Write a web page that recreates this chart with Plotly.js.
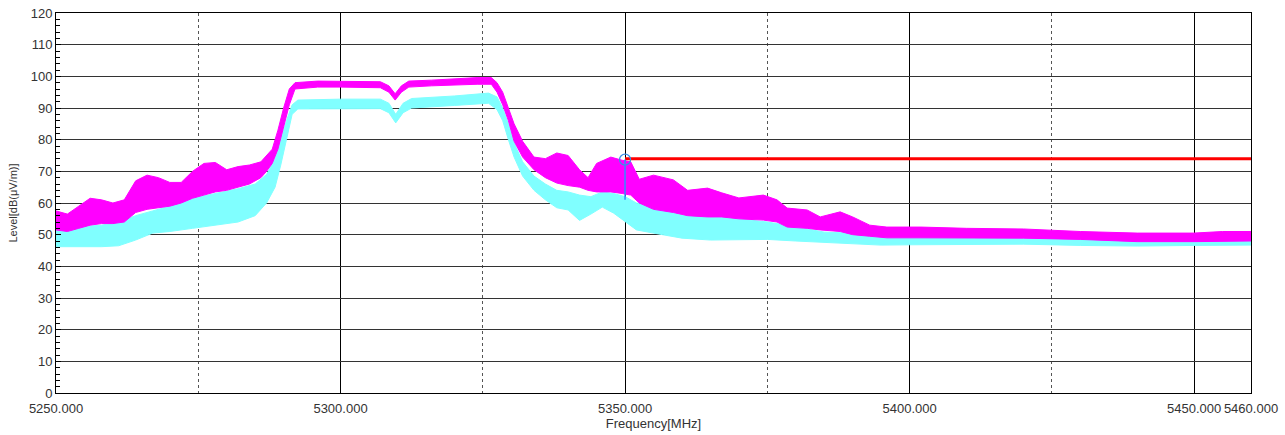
<!DOCTYPE html>
<html>
<head>
<meta charset="utf-8">
<script src="https://cdn.plot.ly/plotly-3.0.1.min.js"></script>
<style>html,body{margin:0;padding:0;background:#fff;}#chart{width:1285px;height:435px;}</style>
</head>
<body>
<div id="chart"></div>
<script>
// Magenta trace envelope (peak detector band)
const magFreq  = [5250,5252,5254,5256,5258,5260,5262,5264,5266,5268,5270,5272,5274,5276,5278,5280,5282,5284,5286,5287,5288,5289,5290,5291,5292,5296,5300,5304,5307,5308.5,5309.6,5310.7,5312,5316,5320,5324,5326.5,5327.5,5328.5,5329.5,5330.5,5332,5334,5336,5338,5340,5342,5343.5,5345,5347.5,5349.5,5351,5352.5,5355,5358.5,5361,5364.5,5367,5370,5374.3,5376.7,5378.5,5382,5384.3,5387.8,5390,5393,5396,5402,5410,5420,5430,5440,5450,5455,5460];
const magUpper = [57.5,56.5,59,61.5,61,60,61,67,68.8,68,66.5,66.5,70,72.5,72.8,70.5,71.5,72,73,75,77,83,90,96,98,98.5,98.5,98.5,98.3,97,94.5,97,98.5,98.8,99.3,99.6,99.6,98,95,90,85,79.5,74.5,74,75.8,75,70.5,68,72.5,74.5,73.5,73,67.5,68.8,67.3,64,64.7,63.2,61.6,62.5,61,58.4,57.8,55.6,57.2,55.6,53,52.4,52.4,52,51.8,51,50.5,50.5,51,51];
const magLower = [51.5,51,52,53,53.5,53.5,54,57,58,58.5,59,60,61.5,62.5,63.5,64,65,66,68,70,72.5,77,84,91,96,96.6,96.6,96.6,96.4,95,92.5,95,96.6,97,97.3,97.5,97.5,95,91,86,79.5,74.5,70.5,68,66.3,65.5,65,64,63.5,63.5,63,62.5,60,58,57,56,55.6,55.6,55,54.6,54,52.4,52,51.5,51,50,49.5,49,49,48.9,48.9,48.5,47.8,47.8,48,48];

// Cyan trace envelope (average detector band)
const cyanFreq  = [5250,5254,5258,5261,5264,5267,5270,5274,5278,5282,5285,5287,5288.5,5289.5,5290.5,5291.5,5292.5,5300,5307,5308.5,5309.7,5311,5312.5,5320,5326,5327.5,5328.5,5329.5,5330.5,5332,5334,5336,5338,5340,5342,5344,5346,5348,5350,5352,5355,5360,5365,5370,5375,5380,5385,5390,5395,5400,5410,5420,5430,5440,5450,5460];
const cyanUpper = [52,52.5,53,54,56,57.5,59,61.5,63,64.5,66,69,74,80,86,91,92.5,92.8,92.8,91.5,88,91.5,93,93.8,94.7,93.5,90,85,79,73,68.5,66,64,63.5,62.5,62,63.5,63,62,60,58.7,56.2,56,55,54,52.5,50.8,50.5,50,49.5,49,49,48.7,48.5,48.5,48.5];
const cyanLower = [46.2,46.2,46.2,46.5,48.3,50.5,51,52,53,54,56,60,65,72,80,88,89.7,89.8,89.8,88.5,85.3,88.5,90,90.8,91.5,89.5,86,80,74.5,68.5,64,61,58.5,57.8,54.5,56.5,58.7,56.8,54,51.5,50.5,48.9,48.3,48.3,48.5,48,47.5,47.2,46.7,46.8,47,47,46.6,46.4,46.6,46.7];

// Limit line and marker
const limitFreq = [5350, 5460];
const limitLevel = [74, 74];
const markerFreq = [5350, 5350];
const markerLevel = [61, 73.7];

const xTickVals = [5250, 5300, 5350, 5400, 5450, 5460];
const xTickText = ['5250.000', '5300.000', '5350.000', '5400.000', '5450.000', '5460.000'];

const MAG = '#ff00ff';
const CYAN = '#80ffff';

const traces = [
  {x: cyanFreq, y: cyanLower, mode: 'lines', line: {color: CYAN, width: 1}, hoverinfo: 'skip', showlegend: false},
  {x: cyanFreq, y: cyanUpper, mode: 'lines', line: {color: CYAN, width: 1}, fill: 'tonexty', fillcolor: CYAN, showlegend: false},
  {x: magFreq, y: magLower, mode: 'lines', line: {color: MAG, width: 1}, hoverinfo: 'skip', showlegend: false},
  {x: magFreq, y: magUpper, mode: 'lines', line: {color: MAG, width: 1}, fill: 'tonexty', fillcolor: MAG, showlegend: false},
  {x: limitFreq, y: limitLevel, mode: 'lines', line: {color: '#ff0000', width: 3}, showlegend: false},
  {x: markerFreq, y: markerLevel, mode: 'lines', line: {color: '#2f8fff', width: 1.5}, showlegend: false},
  {x: [markerFreq[1]], y: [markerLevel[1]], mode: 'markers', marker: {symbol: 'circle-open', size: 11, color: '#3a8ee8', line: {width: 1.3}}, showlegend: false}
];

const layout = {
  width: 1285, height: 435,
  margin: {l: 56, r: 34, t: 13, b: 42},
  paper_bgcolor: '#ffffff', plot_bgcolor: '#ffffff',
  font: {family: 'Liberation Sans, Arial, sans-serif', size: 13, color: '#333333'},
  showlegend: false,
  xaxis: {
    range: [5250, 5460], tickmode: 'array', tickvals: xTickVals, ticktext: xTickText,
    showgrid: true, gridcolor: '#000000', gridwidth: 1,
    ticks: '', ticklabelstandoff: 3, showline: true, linecolor: '#000000', linewidth: 1, mirror: true,
    zeroline: false, tickfont: {size: 13, color: '#333333'},
    minor: {tickmode: 'array', tickvals: [5275, 5325, 5375, 5425], showgrid: true, gridcolor: '#555555', griddash: 'dot', gridwidth: 1},
    title: {text: 'Frequency[MHz]', font: {size: 13, color: '#333333'}, standoff: 0}
  },
  yaxis: {
    range: [0, 120], dtick: 10, tick0: 0,
    showgrid: true, gridcolor: '#333333', gridwidth: 1,
    ticks: 'inside', ticklen: 5, tickcolor: '#000000',
    showline: true, linecolor: '#000000', linewidth: 1, mirror: true,
    zeroline: false, tickfont: {size: 13, color: '#333333'},
    minor: {dtick: 2, ticks: 'inside', ticklen: 4, tickcolor: '#000000', showgrid: false},
    title: {text: 'Level[dB(μV/m)]', font: {size: 11, color: '#333333'}, standoff: 10}
  }
};

Plotly.newPlot('chart', traces, layout, {staticPlot: true, displayModeBar: false});
</script>
</body>
</html>
